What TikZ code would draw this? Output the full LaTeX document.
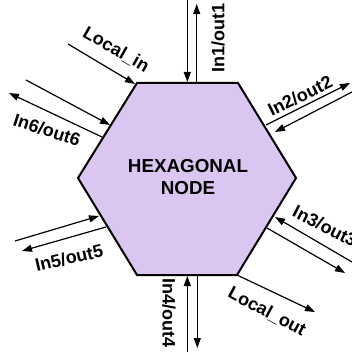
\documentclass[tikz,border=0pt]{standalone}
\usepackage{fontspec}
\setmainfont{Liberation Sans}
\usetikzlibrary{arrows.meta}
\definecolor{hexfill}{RGB}{218,198,240}
\begin{document}
\begin{tikzpicture}[x=1pt,y=-1pt,
  lab/.style={font=\fontsize{18}{20}\selectfont\bfseries, inner sep=0pt},
  arr/.style={line width=1.2pt, -{Triangle[length=10pt,width=7pt]}},
  hexborder/.style={line width=2pt, fill=hexfill, line join=miter}]
\useasboundingbox (0,0) rectangle (352,355);
% hexagon
\coordinate (v1) at (137,83);
\coordinate (v2) at (238,83);
\coordinate (v3) at (296,178);
\coordinate (v4) at (237,275);
\coordinate (v5) at (137,275);
\coordinate (v6) at (78,178);
\draw[hexborder] (v1)--(v2)--(v3)--(v4)--(v5)--(v6)--cycle;
\node[font=\fontsize{18.8}{22}\selectfont\bfseries, align=center, inner sep=0pt] (hex) at (188,177.5) {HEXAGONAL\\NODE};
% top
\coordinate (t1a) at (187.3,0);   \coordinate (t1b) at (187.3,82);
\coordinate (t2a) at (196.7,83);  \coordinate (t2b) at (196.7,4);
\draw[arr] (t1a) -- (t1b);
\draw[arr] (t2a) -- (t2b);
% bottom
\coordinate (b1a) at (187.3,352); \coordinate (b1b) at (187.3,276);
\coordinate (b2a) at (197.3,275); \coordinate (b2b) at (197.3,348);
\draw[arr] (b1a) -- (b1b);
\draw[arr] (b2a) -- (b2b);
% local in
\coordinate (lia) at (68,44);  \coordinate (lib) at (135,84);
\draw[arr] (lia) -- (lib);
% in6/out6
\coordinate (s6a) at (26,80);   \coordinate (s6b) at (110,125);
\coordinate (s6c) at (102,137); \coordinate (s6d) at (9,93);
\draw[arr] (s6a) -- (s6b);
\draw[arr] (s6c) -- (s6d);
% in2/out2
\coordinate (s2a) at (266,125); \coordinate (s2b) at (350,83);
\coordinate (s2c) at (352,92);  \coordinate (s2d) at (275,132);
\draw[arr] (s2a) -- (s2b);
\draw[arr] (s2c) -- (s2d);
% in3/out3
\coordinate (s3a) at (352,262); \coordinate (s3b) at (275,217);
\coordinate (s3c) at (267,228); \coordinate (s3d) at (345,273);
\draw[arr] (s3a) -- (s3b);
\draw[arr] (s3c) -- (s3d);
% local out
\coordinate (loa) at (237,275); \coordinate (lob) at (315,312);
\draw[arr] (loa) -- (lob);
% in5/out5
\coordinate (s5a) at (15,241);  \coordinate (s5b) at (99,216);
\coordinate (s5c) at (106,227); \coordinate (s5d) at (22,251);
\draw[arr] (s5a) -- (s5b);
\draw[arr] (s5c) -- (s5d);
% labels
\node[lab, rotate=90]  (l1) at (218,38)  {In1/out1};
\node[lab, rotate=-90] (l4) at (169,313) {In4/out4};
\node[lab, rotate=-30] (l0) at (116,50)  {Local\_in};
\node[lab, rotate=-18] (l6) at (47,130)  {In6/out6};
\node[lab, rotate=26]  (l2) at (300,96)  {In2/out2};
\node[lab, rotate=-27] (l3) at (325,226) {In3/out3};
\node[lab, rotate=-28] (lo) at (267,312) {Local\_out};
\node[lab, rotate=13]  (l5) at (69,258)  {In5/out5};
\end{tikzpicture}
\end{document}
